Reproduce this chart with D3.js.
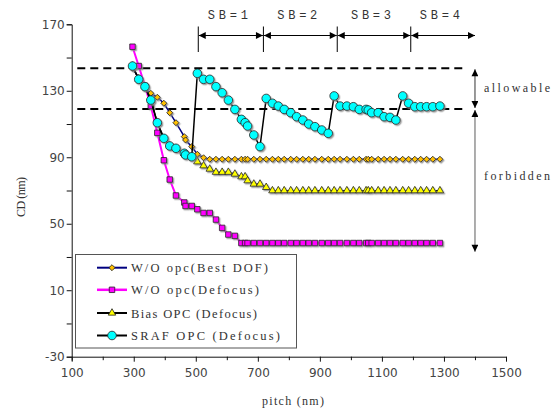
<!DOCTYPE html>
<html>
<head>
<meta charset="utf-8">
<script src="https://cdn.jsdelivr.net/npm/d3@7"></script>
<style>
  body { margin: 0; background: #fff; }
  svg { display: block; }
  .tick text { font-family: "DejaVu Sans", sans-serif; font-size: 12px; fill: #444; }
  .lbl { font-family: "Liberation Serif", serif; font-size: 12px; fill: #333; }
</style>
</head>
<body>
<svg id="chart" width="560" height="412"></svg>
<script>
// pitch (nm), shared by all four series
var pitch = [296, 316, 336, 355, 376, 397, 416, 436, 463, 467, 487, 505, 525, 545, 565, 585, 605, 626, 647, 659,
  667, 687, 707, 727, 747, 766, 785, 806, 825, 845, 864, 884, 906, 927, 946, 965, 987, 1008, 1027, 1049,
  1056, 1067, 1088, 1107, 1126, 1145, 1167, 1186, 1206, 1225, 1244, 1264, 1287];

var bestDof = [143.5, 138, 131.5, 128.5, 126.1, 122.5, 116.8, 110.8, 102.4, 100.4, 96.4, 91.8, 89.7, 88.8, 88.8, 88.8, 88.8, 88.8, 88.8, 88.8,
  88.8, 88.8, 88.8, 88.8, 88.8, 88.8, 88.8, 88.8, 88.8, 88.8, 88.8, 88.8, 88.8, 88.8, 88.8, 88.8, 88.8, 88.8, 88.8, 88.8,
  88.8, 88.8, 88.8, 88.8, 88.8, 88.8, 88.8, 88.8, 88.8, 88.8, 88.8, 88.8, 88.8];

var noOpcDefocus = [156.5, 144.9, 133, 120.8, 104.7, 88.2, 76.6, 67, 62.8, 60.7, 60.7, 58.7, 56.5, 56.5, 52.5, 47.5, 43.5, 42.7, 38.4, 38.4,
  38.4, 38.4, 38.4, 38.4, 38.4, 38.4, 38.4, 38.4, 38.4, 38.4, 38.4, 38.4, 38.4, 38.4, 38.4, 38.4, 38.4, 38.4, 38.4, 38.4,
  38.4, 38.4, 38.4, 38.4, 38.4, 38.4, 38.4, 38.4, 38.4, 38.4, 38.4, 38.4, 38.4];

var biasOpc = [144.9, 136.9, 132.5, 124.4, 110.8, 101.4, 96.8, 95.4, 92.4, 91.4, 90.3, 87.3, 84.9, 82.9, 81, 81, 81, 79.9, 78.3, 78.3,
  75.9, 73.9, 73.9, 71.9, 69.9, 69.9, 69.9, 69.9, 69.9, 69.9, 69.9, 69.9, 69.9, 69.9, 69.9, 69.9, 69.9, 69.9, 69.9, 69.9,
  69.9, 69.9, 69.9, 69.9, 69.9, 69.9, 69.9, 69.9, 69.9, 69.9, 69.9, 69.9, 69.9];

var srafOpc = [144.9, 136.9, 132.5, 124.4, 110.8, 101.4, 96.8, 95.4, 92.4, 91.4, 90.3, 140.5, 136.9, 136.9, 132.5, 128.8, 124.4, 118.8, 112.8, 110.8,
  108.8, 103.4, 96.4, 125.4, 122.5, 120.8, 118.8, 116.8, 114.4, 112.4, 110, 108.4, 106.4, 104.4, 126.9, 120.8, 120.8, 120.4, 118.8, 118.8,
  118.4, 116.8, 116.8, 114.4, 114, 112.4, 126.9, 122.5, 120.4, 120.4, 120.4, 120.4, 120.8];

var seriesNames = ["W/O opc(Best DOF)", "W/O opc(Defocus)", "Bias OPC (Defocus)", "SRAF OPC (Defocus)"];

// limits and shot-bar regions
var limits = [143.5, 119];
var sbEdges = [508, 718, 956, 1193, 1400];
var sbLabels = ["SB=1", "SB=2", "SB=3", "SB=4"];

var xTicks = [100, 300, 500, 700, 900, 1100, 1300, 1500];
var yTicks = [-30, 10, 50, 90, 130, 170];

var svg = d3.select("#chart");

var x = d3.scaleLinear().domain([100, 1500]).range([71.7, 506]);
var y = d3.scaleLinear().domain([-30, 170]).range([356.7, 24.3]);

var defs = svg.append("defs");
defs.append("filter").attr("id", "sh")
    .attr("x", "-50%").attr("y", "-50%").attr("width", "200%").attr("height", "200%")
  .append("feDropShadow")
    .attr("dx", 1.3).attr("dy", 1.3).attr("stdDeviation", 0.3)
    .attr("flood-color", "#888").attr("flood-opacity", 0.8);

// arrowheads
function arrowHead(id) {
  defs.append("marker").attr("id", id)
      .attr("viewBox", "0 0 10 10").attr("refX", 10).attr("refY", 5)
      .attr("markerUnits", "userSpaceOnUse")
      .attr("markerWidth", 8).attr("markerHeight", 7)
      .attr("orient", "auto-start-reverse")
    .append("path").attr("d", "M0,0L10,5L0,10Z").attr("fill", "#000");
}
arrowHead("arr");

// axes
var xAxis = svg.append("g").attr("transform", "translate(0," + y(-30) + ")")
    .call(d3.axisBottom(x).tickValues(d3.range(100, 1501, 100)).tickSize(4)
      .tickFormat(function(d) { return xTicks.indexOf(d) >= 0 ? d : ""; }));
xAxis.selectAll(".tick text").attr("dy", "1.1em");
xAxis.selectAll(".tick line").attr("y2", function(d) { return xTicks.indexOf(d) >= 0 ? 5 : 3.5; });

var yAxis = svg.append("g").attr("transform", "translate(" + x(100) + ",0)")
    .call(d3.axisLeft(y).tickValues(d3.range(-30, 171, 20)).tickSize(5)
      .tickFormat(function(d) { return yTicks.indexOf(d) >= 0 ? d : ""; }));
yAxis.selectAll(".tick text").attr("x", -7);

svg.selectAll(".domain").attr("stroke", "#111");
svg.selectAll(".tick line").attr("stroke", "#111");

svg.append("text").attr("class", "lbl")
    .attr("x", 293).attr("y", 405).attr("text-anchor", "middle")
    .attr("textLength", 62).attr("lengthAdjust", "spacing")
    .text("pitch (nm)");
svg.append("text").attr("class", "lbl")
    .attr("transform", "translate(25,197) rotate(-90)")
    .attr("text-anchor", "middle")
    .attr("textLength", 40).attr("lengthAdjust", "spacing")
    .text("CD (nm)");

// limit lines
svg.selectAll(".limit").data(limits).enter().append("line")
    .attr("class", "limit")
    .attr("x1", x(118)).attr("x2", x(1368))
    .attr("y1", d => y(d)).attr("y2", d => y(d))
    .attr("stroke", "#000").attr("stroke-width", 2)
    .attr("stroke-dasharray", "8,5");

// SB regions at top
var sbY = 35.5;
svg.selectAll(".sbtick").data(sbEdges.slice(0, 4)).enter().append("line")
    .attr("class", "sbtick")
    .attr("x1", d => x(d)).attr("x2", d => x(d))
    .attr("y1", 26.5).attr("y2", 52)
    .attr("stroke", "#000").attr("stroke-width", 1);
svg.selectAll(".sbarrow").data(sbLabels).enter().append("line")
    .attr("class", "sbarrow")
    .attr("x1", (d, i) => x(sbEdges[i]) + 0.5)
    .attr("x2", (d, i) => x(sbEdges[i + 1]) - (i == 3 ? 0 : 0.5))
    .attr("y1", sbY).attr("y2", sbY)
    .attr("stroke", "#000").attr("stroke-width", 1.2)
    .attr("marker-start", "url(#arr)").attr("marker-end", "url(#arr)");
svg.selectAll(".sblabel").data(sbLabels).enter().append("text")
    .attr("class", "sblabel")
    .attr("x", (d, i) => (x(sbEdges[i]) + x(sbEdges[i + 1])) / 2 - 3)
    .attr("y", 19)
    .attr("text-anchor", "middle")
    .attr("textLength", 40).attr("lengthAdjust", "spacing")
    .style("font-family", "'Liberation Mono', monospace").style("font-size", "12px").style("fill", "#333")
    .text(d => d);

// allowable / forbidden arrows
var ax = x(1400);
svg.append("line")
    .attr("x1", ax).attr("x2", ax).attr("y1", y(limits[0]) + 1).attr("y2", y(limits[1]) - 1)
    .attr("stroke", "#555").attr("stroke-width", 1.2)
    .attr("marker-start", "url(#arr)").attr("marker-end", "url(#arr)");
svg.append("line")
    .attr("x1", ax).attr("x2", ax).attr("y1", y(limits[1]) + 1).attr("y2", y(33.2))
    .attr("stroke", "#777").attr("stroke-width", 1.2)
    .attr("marker-start", "url(#arr)").attr("marker-end", "url(#arr)");
svg.append("text").attr("class", "lbl")
    .attr("x", 484).attr("y", y(129.4))
    .attr("textLength", 66).attr("lengthAdjust", "spacing")
    .text("allowable");
svg.append("text").attr("class", "lbl")
    .attr("x", 484).attr("y", y(76.3))
    .attr("textLength", 66).attr("lengthAdjust", "spacing")
    .text("forbidden");

// series
var styles = [
  { values: bestDof, line: "#000080", lw: 1.5, shape: d3.symbolSquare, rot: 45, size: 18, fill: "#ffc000" },
  { values: noOpcDefocus, line: "#ff00ff", lw: 2, shape: d3.symbolSquare, rot: 0, size: 30, fill: "#ff00ff" },
  { values: biasOpc, line: "#000", lw: 1.5, shape: d3.symbolTriangle, rot: 0, size: 24, fill: "#ffff00" },
  { values: srafOpc, line: "#000", lw: 1.5, shape: d3.symbolCircle, rot: 0, size: 58, fill: "#00ffff" }
];

var line = d3.line().x(d => x(d[0])).y(d => y(d[1]));

styles.forEach(function(s) {
  var pts = pitch.map((p, i) => [p, s.values[i]]);
  svg.append("path").datum(pts)
      .attr("d", line)
      .attr("fill", "none")
      .attr("stroke", s.line)
      .attr("stroke-width", s.lw);
  svg.append("g").attr("filter", "url(#sh)")
    .selectAll("path").data(pts).enter().append("path")
      .attr("transform", d => "translate(" + x(d[0]) + "," + y(d[1]) + ") rotate(" + s.rot + ")")
      .attr("d", d3.symbol().type(s.shape).size(s.size))
      .attr("fill", s.fill)
      .attr("stroke", "#222")
      .attr("stroke-width", 0.8);
});

// legend
var lg = svg.append("g");
lg.append("rect")
    .attr("x", 75.5).attr("y", 254.5).attr("width", 221).attr("height", 93.5)
    .attr("fill", "#fff").attr("stroke", "#555").attr("stroke-width", 1);
var rowY = [267.7, 289.8, 313, 335.5];
var textW = [137, 128, 126, 149];
styles.forEach(function(s, i) {
  var row = lg.append("g").attr("transform", "translate(0," + rowY[i] + ")");
  row.append("line")
      .attr("x1", 97).attr("x2", 127)
      .attr("stroke", s.line).attr("stroke-width", s.lw + 0.5);
  row.append("path")
      .attr("transform", "translate(112,0) rotate(" + s.rot + ")")
      .attr("d", d3.symbol().type(s.shape).size(s.size))
      .attr("fill", s.fill)
      .attr("stroke", "#222").attr("stroke-width", 0.8);
  row.append("text").attr("class", "lbl")
      .attr("x", 131).attr("y", 4.5)
      .attr("textLength", textW[i]).attr("lengthAdjust", "spacing")
      .style("font-size", "12.5px")
      .text(seriesNames[i]);
});
</script>
</body>
</html>
